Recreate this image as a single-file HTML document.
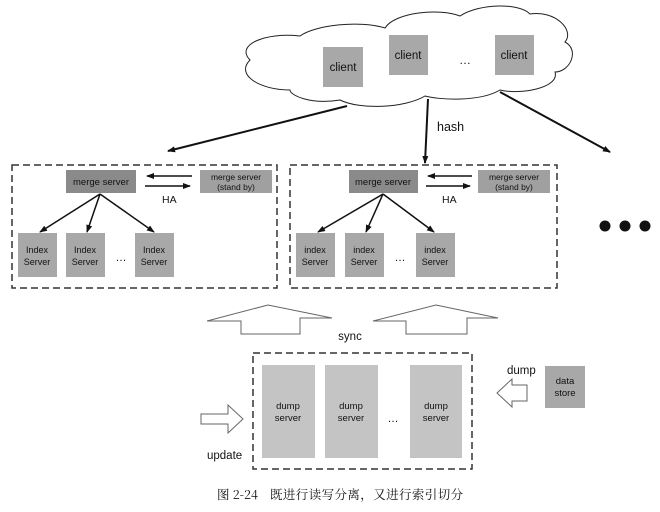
<!DOCTYPE html>
<html><head><meta charset="utf-8"><style>
body{margin:0;background:#fff}
svg{display:block}
text{font-family:"Liberation Sans","Noto Sans CJK SC",sans-serif;fill:#111}
</style></head><body>
<svg width="660" height="512" viewBox="0 0 660 512" xmlns="http://www.w3.org/2000/svg">
<defs>
<marker id="ah" markerWidth="8" markerHeight="8" refX="7" refY="4" orient="auto" markerUnits="userSpaceOnUse">
<path d="M0,1 L8,4 L0,7 Z" fill="#111"/></marker>
</defs>
<path d="M250,60 C235,45 265,32 300,36 C315,25 360,20 385,28 C395,12 440,8 460,16 C480,3 520,3 530,14 C555,10 575,30 565,42 C580,50 570,72 555,72 C560,88 520,95 500,90 C480,102 440,100 425,96 C405,108 360,110 340,100 C310,105 290,95 290,90 C260,90 235,75 250,60 Z" fill="#fff" stroke="#222" stroke-width="1"/>
<rect x="323" y="47" width="40" height="40" fill="#a8a8a8"/><text x="343" y="71" font-size="11.5" text-anchor="middle">client</text>
<rect x="389" y="35" width="39" height="40" fill="#a8a8a8"/><text x="408" y="59" font-size="11.5" text-anchor="middle">client</text>
<text x="465" y="64" font-size="12" text-anchor="middle">…</text>
<rect x="495" y="35" width="39" height="40" fill="#a8a8a8"/><text x="514" y="59" font-size="11.5" text-anchor="middle">client</text>
<g stroke="#111" stroke-width="2" marker-end="url(#ah)">
<line x1="347" y1="106" x2="168" y2="151"/>
<line x1="428" y1="99" x2="425" y2="163"/>
<line x1="500" y1="92" x2="610" y2="152"/>
</g>
<text x="437" y="131" font-size="12.5">hash</text>
<rect x="12" y="165" width="265" height="123" fill="none" stroke="#333" stroke-width="1.5" stroke-dasharray="7,4"/>
<rect x="66" y="170" width="70" height="23" fill="#8a8a8a"/><text x="101" y="185" font-size="9.5" text-anchor="middle">merge server</text>
<rect x="200" y="170" width="72" height="23" fill="#a0a0a0"/><text x="236" y="180" font-size="8.5" text-anchor="middle">merge server</text><text x="236" y="190" font-size="8.5" text-anchor="middle">(stand by)</text>
<g stroke="#111" stroke-width="1.5" marker-end="url(#ah)">
<line x1="192" y1="176" x2="147" y2="176"/><line x1="145" y1="186" x2="190" y2="186"/>
<line x1="100" y1="194" x2="40" y2="232"/><line x1="100" y1="194" x2="87" y2="232"/><line x1="100" y1="194" x2="154" y2="232"/>
</g>
<text x="162" y="203" font-size="10.5">HA</text>
<rect x="18" y="233" width="39" height="44" fill="#a8a8a8"/><text x="37" y="253" font-size="9" text-anchor="middle">Index</text><text x="37" y="265" font-size="9" text-anchor="middle">Server</text>
<rect x="66" y="233" width="39" height="44" fill="#a8a8a8"/><text x="85" y="253" font-size="9" text-anchor="middle">Index</text><text x="85" y="265" font-size="9" text-anchor="middle">Server</text>
<text x="121" y="261" font-size="11" text-anchor="middle">…</text>
<rect x="135" y="233" width="39" height="44" fill="#a8a8a8"/><text x="154" y="253" font-size="9" text-anchor="middle">Index</text><text x="154" y="265" font-size="9" text-anchor="middle">Server</text>
<rect x="290" y="165" width="267" height="123" fill="none" stroke="#333" stroke-width="1.5" stroke-dasharray="7,4"/>
<rect x="349" y="170" width="69" height="23" fill="#8a8a8a"/><text x="383" y="185" font-size="9.5" text-anchor="middle">merge server</text>
<rect x="478" y="170" width="72" height="23" fill="#a0a0a0"/><text x="514" y="180" font-size="8.5" text-anchor="middle">merge server</text><text x="514" y="190" font-size="8.5" text-anchor="middle">(stand by)</text>
<g stroke="#111" stroke-width="1.5" marker-end="url(#ah)">
<line x1="472" y1="176" x2="428" y2="176"/><line x1="426" y1="186" x2="470" y2="186"/>
<line x1="383" y1="194" x2="318" y2="232"/><line x1="383" y1="194" x2="366" y2="232"/><line x1="383" y1="194" x2="434" y2="232"/>
</g>
<text x="442" y="203" font-size="10.5">HA</text>
<rect x="296" y="233" width="39" height="44" fill="#a8a8a8"/><text x="315" y="253" font-size="9" text-anchor="middle">index</text><text x="315" y="265" font-size="9" text-anchor="middle">Server</text>
<rect x="345" y="233" width="39" height="44" fill="#a8a8a8"/><text x="364" y="253" font-size="9" text-anchor="middle">index</text><text x="364" y="265" font-size="9" text-anchor="middle">Server</text>
<text x="400" y="261" font-size="11" text-anchor="middle">…</text>
<rect x="416" y="233" width="39" height="44" fill="#a8a8a8"/><text x="435" y="253" font-size="9" text-anchor="middle">index</text><text x="435" y="265" font-size="9" text-anchor="middle">Server</text>
<circle cx="605" cy="226" r="5.5" fill="#111"/><circle cx="625" cy="226" r="5.5" fill="#111"/><circle cx="645" cy="226" r="5.5" fill="#111"/>
<g fill="none" stroke="#666" stroke-width="1">
<path d="M207,321 L268,305 L332,318 L300,318 L300,334 L241,334 L241,321 Z"/>
<path d="M373,321 L436,305 L498,318 L467,318 L467,334 L406,334 L406,321 Z"/>
<path d="M201,414 L228,414 L228,405 L243,419 L228,433 L228,424 L201,424 Z"/>
<path d="M527,385 L512,385 L512,379 L497,393 L512,407 L512,401 L527,401 Z"/>
</g>
<text x="350" y="340" font-size="11.5" text-anchor="middle">sync</text>
<rect x="253" y="353" width="219" height="116" fill="none" stroke="#333" stroke-width="1.5" stroke-dasharray="7,4"/>
<rect x="262" y="365" width="53" height="93" fill="#c4c4c4"/><text x="288" y="409" font-size="9.5" text-anchor="middle">dump</text><text x="288" y="421" font-size="9.5" text-anchor="middle">server</text>
<rect x="325" y="365" width="53" height="93" fill="#c4c4c4"/><text x="351" y="409" font-size="9.5" text-anchor="middle">dump</text><text x="351" y="421" font-size="9.5" text-anchor="middle">server</text>
<text x="393" y="422" font-size="11" text-anchor="middle">…</text>
<rect x="410" y="365" width="52" height="93" fill="#c4c4c4"/><text x="436" y="409" font-size="9.5" text-anchor="middle">dump</text><text x="436" y="421" font-size="9.5" text-anchor="middle">server</text>
<text x="207" y="459" font-size="11.5">update</text>
<text x="507" y="374" font-size="11.5">dump</text>
<rect x="545" y="366" width="40" height="42" fill="#a8a8a8"/><text x="565" y="384" font-size="9.5" text-anchor="middle">data</text><text x="565" y="396" font-size="9.5" text-anchor="middle">store</text>
<text x="217" y="499" font-size="12.5" style="font-family:'Noto Serif CJK SC','Liberation Serif',serif">图 2-24</text>
<text x="270" y="499" font-size="12.5" letter-spacing="0.4" style="font-family:'Noto Serif CJK SC','Liberation Serif',serif">既进行读写分离，又进行索引切分</text>
</svg>
</body></html>
